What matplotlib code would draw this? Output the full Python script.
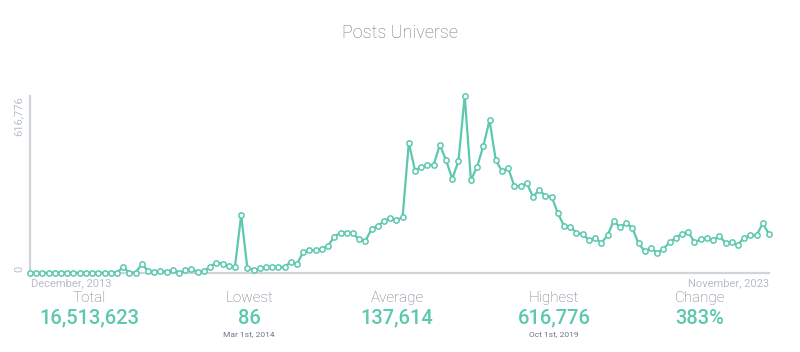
import matplotlib
matplotlib.use("Agg")
import matplotlib.pyplot as plt
import pandas as pd

# monthly posts, Dec 2013 .. Nov 2023
months = pd.date_range("2013-12-01", "2023-11-01", freq="MS")
posts = [
    900, 600, 400, 86, 500, 700, 400, 600, 500, 800, 600, 700, 500, 900, 1500,
    20000, 1200, 1500, 31000, 8000, 4000, 7000, 4000, 12000, 1500, 9000, 13000, 5000, 6000, 22000,
    36000, 33000, 24000, 20000, 202000, 18000, 10000, 16000, 22000, 21000,
    21000, 21000, 39000, 32000, 73000, 79000, 80000, 85000, 95000, 127000,
    140000, 141000, 138000, 117000, 112000, 153000, 165000, 180000, 193000, 184000,
    194000, 454000, 357000, 370000, 375000, 377000, 446000, 393000, 328000, 391000,
    616776, 324000, 370000, 443000, 532000, 394000, 355000, 365000, 303000, 303000,
    313000, 266000, 289000, 269000, 266000, 208000, 164000, 161000, 140000, 135000,
    115000, 121000, 105000, 131000, 182000, 159000, 175000, 156000, 103000, 76000,
    86000, 71000, 84000, 107000, 123000, 137000, 143000, 107000, 117000, 122000,
    116000, 128000, 105000, 108000, 99000, 123000, 131000, 132000, 173000, 135000,
]

stat_labels = ["Total", "Lowest", "Average", "Highest", "Change"]
stat_values = ["16,513,623", "86", "137,614", "616,776", "383%"]
stat_notes = ["", "Mar 1st, 2014", "", "Oct 1st, 2019", ""]
stat_x = [89, 249, 397, 554, 700]

TEAL = "#5cc8ae"
GRAY = "#6f7586"
LIGHT = "#b9bdc8"
AXIS = "#cfd3da"

plt.rcParams["font.family"] = ["Roboto", "DejaVu Sans"]

fig = plt.figure(figsize=(8, 3.52), dpi=100)
ax = fig.add_axes([30 / 800, 1 - 273 / 352, 739 / 800, 177 / 352])

x = list(range(len(posts)))
ymax = max(posts)
ax.plot(x, posts, color=TEAL, lw=1.6, marker="o", ms=3.8, mfc="white",
        mec=TEAL, mew=1.1, clip_on=False, zorder=3)
ax.set_xlim(0, len(posts) - 1)
ax.set_ylim(0, ymax)

for s in ["top", "right"]:
    ax.spines[s].set_visible(False)
for s in ["left", "bottom"]:
    ax.spines[s].set_color(AXIS)
    ax.spines[s].set_linewidth(1.6)
ax.set_xticks([])
ax.set_yticks([])

# axis labels
ax.annotate(f"{ymax:,}", xy=(0, ymax), xycoords=("axes fraction", "data"),
            xytext=(-8, 0), textcoords="offset points", rotation=90,
            ha="center", va="top", color=LIGHT, fontsize=8)
ax.annotate("0", xy=(0, 0), xycoords=("axes fraction", "data"),
            xytext=(-8, 3), textcoords="offset points", rotation=90,
            ha="center", va="center", color=LIGHT, fontsize=8)
ax.annotate(months[0].strftime("%B, %Y"), xy=(0, 0), xycoords="axes fraction",
            xytext=(1, -7), textcoords="offset points",
            ha="left", va="center", color=LIGHT, fontsize=8)
ax.annotate(months[-1].strftime("%B, %Y"), xy=(1, 0), xycoords="axes fraction",
            xytext=(0, -7), textcoords="offset points",
            ha="right", va="center", color=LIGHT, fontsize=8)

fig.text(0.5, 1 - 33 / 352, "Posts Universe", ha="center", va="center",
         color=GRAY, fontsize=13, fontweight="light")

for lab, val, note, sx in zip(stat_labels, stat_values, stat_notes, stat_x):
    fig.text(sx / 800, 1 - 298 / 352, lab, ha="center", va="center",
             color=GRAY, fontsize=11, fontweight="light")
    fig.text(sx / 800, 1 - 318 / 352, val, ha="center", va="center",
             color=TEAL, fontsize=14.5, fontweight="medium")
    if note:
        fig.text(sx / 800, 1 - 334 / 352, note, ha="center", va="center",
                 color=GRAY, fontsize=6)

fig.savefig("out.png", dpi=100, facecolor="white")
